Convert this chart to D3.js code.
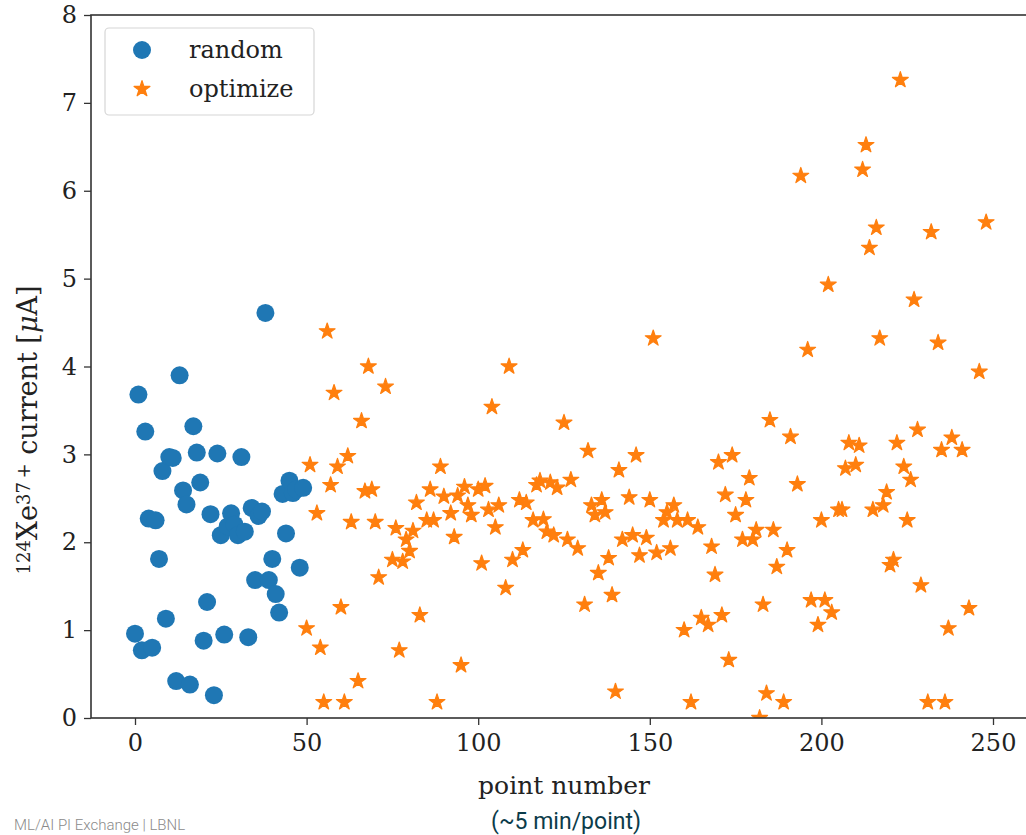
<!DOCTYPE html>
<html>
<head>
<meta charset="utf-8">
<script src="https://cdn.jsdelivr.net/npm/d3@7"></script>
<style>
  body { margin: 0; background: #fff; }
  svg { display: block; }
</style>
</head>
<body>
<svg id="chart" width="1026" height="835"></svg>
<script>
// ── Data ──────────────────────────────────────────────────────────────────────
const randomX = [0, 1, 2, 3, 4, 5, 6, 7, 8, 9, 10, 11, 12, 13, 14, 15, 16, 17, 18, 19,
  20, 21, 22, 23, 24, 25, 26, 27, 28, 29, 30, 31, 32, 33, 34, 35, 36, 37, 38, 39,
  40, 41, 42, 43, 44, 45, 46, 47, 48, 49];
const randomY = [0.96, 3.68, 0.77, 3.26, 2.27, 0.80, 2.25, 1.81, 2.81, 1.13, 2.97, 2.96, 0.42, 3.90, 2.59, 2.43, 0.38, 3.32, 3.02, 2.68,
  0.88, 1.32, 2.32, 0.26, 3.01, 2.08, 0.95, 2.18, 2.33, 2.20, 2.08, 2.97, 2.12, 0.92, 2.39, 1.57, 2.30, 2.35, 4.61, 1.57,
  1.81, 1.41, 1.20, 2.55, 2.10, 2.70, 2.56, 2.60, 1.71, 2.62];

const optimizeX = [50, 51, 53, 54, 55, 56, 57, 58, 59, 60, 61, 62, 63, 65, 66, 67, 68, 69, 70, 71,
  73, 75, 76, 77, 78, 79, 80, 81, 82, 83, 85, 86, 87, 88, 89, 90, 92, 93, 94, 95,
  96, 97, 98, 100, 101, 102, 103, 104, 105, 106, 108, 109, 110, 112, 113, 114, 116, 117, 118, 119,
  120, 121, 122, 123, 125, 126, 127, 129, 131, 132, 133, 134, 135, 136, 137, 138, 139, 140, 141, 142,
  144, 145, 146, 147, 149, 150, 151, 152, 154, 155, 156, 157, 158, 160, 161, 162, 164, 165, 167, 168,
  169, 170, 171, 172, 173, 174, 175, 177, 178, 179, 180, 181, 182, 183, 184, 185, 186, 187, 189, 190,
  191, 193, 194, 196, 197, 199, 200, 201, 202, 203, 205, 206, 207, 208, 210, 211, 212, 213, 214, 215,
  216, 217, 218, 219, 220, 221, 222, 223, 224, 225, 226, 227, 228, 229, 231, 232, 234, 235, 236, 237,
  238, 241, 243, 246, 248];
const optimizeY = [1.02, 2.88, 2.33, 0.80, 0.18, 4.40, 2.65, 3.70, 2.86, 1.26, 0.18, 2.98, 2.23, 0.42, 3.38, 2.58, 4.00, 2.60, 2.23, 1.60,
  3.77, 1.80, 2.16, 0.77, 1.78, 2.03, 1.90, 2.13, 2.45, 1.17, 2.25, 2.60, 2.25, 0.18, 2.86, 2.52, 2.33, 2.06, 2.53, 0.60,
  2.63, 2.42, 2.31, 2.60, 1.76, 2.64, 2.37, 3.54, 2.17, 2.42, 1.48, 4.00, 1.80, 2.48, 1.91, 2.45, 2.25, 2.65, 2.70, 2.26,
  2.12, 2.68, 2.08, 2.62, 3.36, 2.03, 2.71, 1.93, 1.29, 3.04, 2.42, 2.31, 1.65, 2.48, 2.34, 1.82, 1.40, 0.30, 2.82, 2.03,
  2.51, 2.08, 2.99, 1.85, 2.05, 2.48, 4.32, 1.88, 2.25, 2.34, 1.93, 2.42, 2.25, 1.00, 2.25, 0.18, 2.17, 1.14, 1.06, 1.95,
  1.63, 2.91, 1.17, 2.54, 0.66, 2.99, 2.31, 2.03, 2.48, 2.73, 2.03, 2.14, 0.00, 1.29, 0.28, 3.39, 2.14, 1.72, 0.18, 1.91,
  3.20, 2.66, 6.17, 4.19, 1.34, 1.06, 2.25, 1.34, 4.93, 1.20, 2.37, 2.37, 2.84, 3.13, 2.88, 3.10, 6.24, 6.52, 5.35, 2.37,
  5.58, 4.32, 2.42, 2.57, 1.74, 1.80, 3.13, 7.26, 2.86, 2.25, 2.71, 4.76, 3.28, 1.51, 0.18, 5.53, 4.27, 3.05, 0.18, 1.02,
  3.19, 3.05, 1.25, 3.94, 5.64];

const xTicks = [0, 50, 100, 150, 200, 250];
const yTicks = [0, 1, 2, 3, 4, 5, 6, 7, 8];
const seriesNames = ['random', 'optimize'];

// ── Layout ────────────────────────────────────────────────────────────────────
const LEFT = 91, TOP = 15, BOTTOM = 718, RIGHT = 1060;
const BLUE = '#1f77b4', ORANGE = '#ff7f0e';
const SERIF = '"DejaVu Serif", serif';

const svg = d3.select('#chart');

// 0 sits at 135px and 250 at 993px; extend to the spines
const x0 = d3.scaleLinear().domain([0, 250]).range([135, 993]);
const x = d3.scaleLinear().domain([x0.invert(LEFT), x0.invert(RIGHT)]).range([LEFT, RIGHT]);
const y = d3.scaleLinear().domain([0, 8]).range([BOTTOM, TOP]);

svg.append('clipPath').attr('id', 'plotClip')
  .append('rect')
  .attr('x', LEFT).attr('y', TOP)
  .attr('width', RIGHT - LEFT).attr('height', BOTTOM - TOP);

// ── Marks ─────────────────────────────────────────────────────────────────────
const marks = svg.append('g').attr('clip-path', 'url(#plotClip)');

marks.selectAll('circle.random')
  .data(randomX.map((v, i) => [v, randomY[i]]))
  .join('circle')
  .attr('class', 'random')
  .attr('cx', d => x(d[0]))
  .attr('cy', d => y(d[1]))
  .attr('r', 9)
  .attr('fill', BLUE);

const star = d3.symbol().type(d3.symbolStar).size(78);
marks.selectAll('path.optimize')
  .data(optimizeX.map((v, i) => [v, optimizeY[i]]))
  .join('path')
  .attr('class', 'optimize')
  .attr('d', star)
  .attr('transform', d => `translate(${x(d[0])},${y(d[1])})`)
  .attr('fill', ORANGE)
  .attr('stroke', ORANGE)
  .attr('stroke-width', 1.2)
  .attr('stroke-linejoin', 'round');

// ── Axes ──────────────────────────────────────────────────────────────────────
const xAxis = svg.append('g')
  .attr('transform', `translate(0,${BOTTOM})`)
  .call(d3.axisBottom(x).tickValues(xTicks).tickSize(7).tickPadding(9).tickFormat(d3.format('d')));
const yAxis = svg.append('g')
  .attr('transform', `translate(${LEFT},0)`)
  .call(d3.axisLeft(y).tickValues(yTicks).tickSize(7).tickPadding(7).tickFormat(d3.format('d')));

[xAxis, yAxis].forEach(g => {
  g.select('.domain').remove();
  g.selectAll('.tick line').attr('stroke', '#333').attr('stroke-width', 1.3);
  g.selectAll('.tick text')
    .attr('fill', '#222')
    .style('font-family', SERIF)
    .style('font-size', '24px');
});

// spines
svg.append('rect')
  .attr('x', LEFT).attr('y', TOP)
  .attr('width', RIGHT - LEFT).attr('height', BOTTOM - TOP)
  .attr('fill', 'none')
  .attr('stroke', '#333')
  .attr('stroke-width', 1.6);

// ── Labels ────────────────────────────────────────────────────────────────────
svg.append('text')
  .attr('x', 564).attr('y', 794)
  .attr('text-anchor', 'middle')
  .attr('fill', '#222')
  .style('font-family', SERIF)
  .style('font-size', '25px')
  .text('point number');

const yl = svg.append('text')
  .attr('transform', 'translate(37,430) rotate(-90)')
  .attr('text-anchor', 'middle')
  .attr('fill', '#222')
  .style('font-family', SERIF)
  .style('font-size', '27px');
yl.append('tspan').attr('baseline-shift', '38%').style('font-size', '18px').text('124');
yl.append('tspan').text('Xe');
yl.append('tspan').attr('baseline-shift', '38%').style('font-size', '18px').text('37\u2009+');
yl.append('tspan').text(' current [');
yl.append('tspan').style('font-style', 'italic').text('\u03bc');
yl.append('tspan').text('A]');

// ── Legend ────────────────────────────────────────────────────────────────────
const legend = svg.append('g');
legend.append('rect')
  .attr('x', 105).attr('y', 28)
  .attr('width', 209).attr('height', 87)
  .attr('rx', 4)
  .attr('fill', 'rgba(255,255,255,0.85)')
  .attr('stroke', '#d6d6d6')
  .attr('stroke-width', 1.2);

legend.append('circle')
  .attr('cx', 142).attr('cy', 50).attr('r', 9).attr('fill', BLUE);
legend.append('path')
  .attr('d', star)
  .attr('transform', 'translate(142,89)')
  .attr('fill', ORANGE).attr('stroke', ORANGE).attr('stroke-width', 1.2)
  .attr('stroke-linejoin', 'round');

legend.selectAll('text.leg')
  .data(seriesNames)
  .join('text')
  .attr('class', 'leg')
  .attr('x', 189)
  .attr('y', (d, i) => 50 + i * 39)
  .attr('dy', '0.35em')
  .attr('fill', '#222')
  .style('font-family', SERIF)
  .style('font-size', '24px')
  .text(d => d);

// ── Slide text ────────────────────────────────────────────────────────────────
svg.append('text')
  .attr('x', 566).attr('y', 829)
  .attr('text-anchor', 'middle')
  .attr('fill', '#0b3c4a')
  .style('font-family', 'Roboto, "Open Sans", sans-serif')
  .style('font-size', '23px')
  .text('(~5 min/point)');

svg.append('text')
  .attr('x', 14).attr('y', 830)
  .attr('fill', '#8a8a8a')
  .style('font-family', 'Roboto, "Open Sans", sans-serif')
  .style('font-weight', 300)
  .style('font-size', '15px')
  .text('ML/AI PI Exchange | LBNL');
</script>
</body>
</html>
